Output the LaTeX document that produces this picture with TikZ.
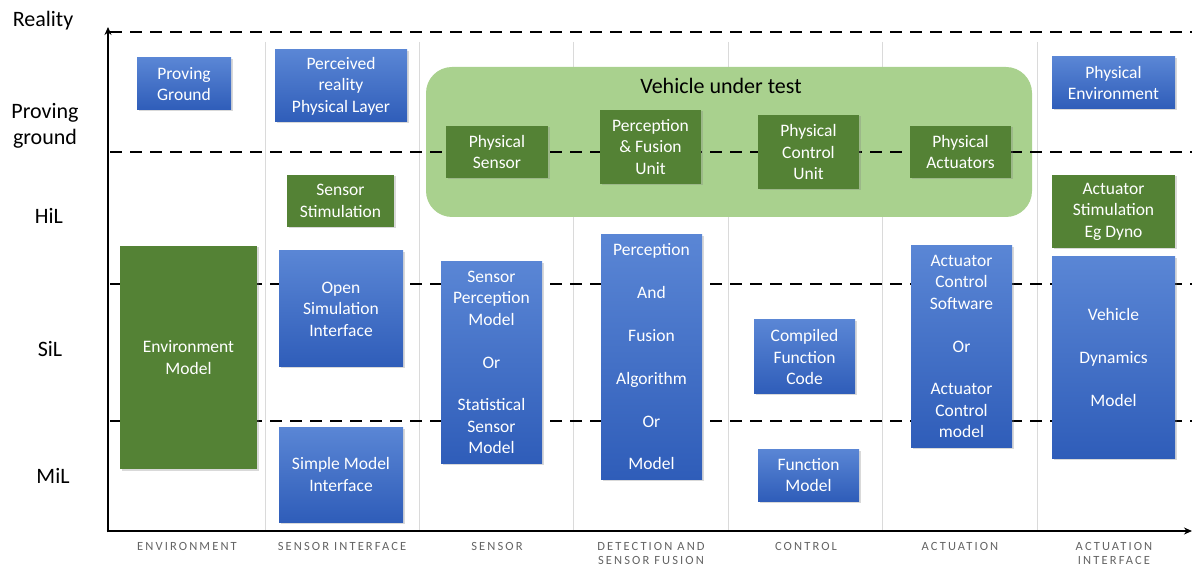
\documentclass[tikz,border=0pt]{standalone}
\usepackage{fontspec}
\setmainfont{Carlito}
\newfontfamily\capsfont[LetterSpace=17]{Carlito}
\usetikzlibrary{shadows,arrows.meta}
\definecolor{bluetop}{HTML}{5A86D5}
\definecolor{bluebot}{HTML}{2F5DB9}
\definecolor{dkgreen}{HTML}{548235}
\definecolor{ltgreen}{HTML}{A9D18E}
\definecolor{sepgray}{HTML}{DADADA}
\definecolor{lblgray}{HTML}{636363}
\tikzset{
  x=1pt, y=-1pt,
  boxbase/.style={align=center, text=white, inner sep=0pt,
    font=\fontsize{17.5}{21.4}\selectfont,
    drop shadow={shadow xshift=1.5pt, shadow yshift=-1.5pt, opacity=0.3}},
  bluebox/.style={boxbase, top color=bluetop, bottom color=bluebot},
  greenbox/.style={boxbase, fill=dkgreen},
  vutbox/.style={fill=ltgreen, rounded corners=26pt, inner sep=0pt},
  dashline/.style={line width=2.8pt, dash pattern=on 12pt off 8pt},
  sepline/.style={sepgray, line width=0.8pt},
  axisline/.style={line width=2.6pt, -{Stealth[length=8pt,width=7pt]}},
  rowlabel/.style={align=center, font=\fontsize{22}{26}\selectfont},
  collabel/.style={align=center, anchor=north, text=lblgray, inner sep=0pt, font=\capsfont\fontsize{12.5}{14.5}\selectfont},
}
\newcommand\boxat[7]{\node[#7, minimum width={(#4-#2)*1pt}, minimum height={(#5-#3)*1pt}] (#1) at ({(#2+#4)/2},{(#3+#5)/2}) {#6};}
\newcommand\gap{\\[21.4pt]}
\begin{document}
\begin{tikzpicture}
\useasboundingbox (0,0) rectangle (1192,569);
% column separators
\foreach \xx in {265,419,573,728,882,1037}{\draw[sepline] (\xx,42) -- (\xx,531);}
% vehicle under test
\boxat{vut}{426}{67}{1032}{217}{}{vutbox}
\node[font=\fontsize{22}{26}\selectfont] (vutlabel) at (721,86) {Vehicle under test};
% dashed level lines
\draw[dashline] (110,32) -- (1192,32);
\draw[dashline] (110,152) -- (1192,152);
\draw[dashline] (110,284) -- (1192,284);
\draw[dashline] (110,421) -- (1192,421);
% axes
\coordinate (origin) at (108,531);
\coordinate (ytop) at (108,27);
\coordinate (xend) at (1192,531);
\draw[axisline] (108,532.3) -- (ytop);
\draw[axisline] (106.7,531) -- (xend);
% row labels
\node[rowlabel] (reality) at (43,21) {Reality};
\node[rowlabel] (proving) at (45,126) {Proving\\ground};
\node[rowlabel] (hil) at (49,216) {HiL};
\node[rowlabel] (sil) at (50,349) {SiL};
\node[rowlabel] (mil) at (53,476) {MiL};
% column labels
\node[collabel] (c1) at (187,542) {ENVIRONMENT};
\node[collabel] (c2) at (342,542) {SENSOR INTERFACE};
\node[collabel] (c3) at (497,542) {SENSOR};
\node[collabel] (c4) at (651,542) {DETECTION AND\\SENSOR FUSION};
\node[collabel] (c5) at (806,542) {CONTROL};
\node[collabel] (c6) at (960,542) {ACTUATION};
\node[collabel] (c7) at (1114,542) {ACTUATION\\INTERFACE};
% boxes
\boxat{pg}{137}{58}{231}{110}{Proving\\Ground}{bluebox}
\boxat{prpl}{275}{50}{407}{122}{Perceived\\reality\\Physical Layer}{bluebox}
\boxat{sstim}{287}{175}{394}{227}{Sensor\\Stimulation}{greenbox}
\boxat{envm}{120}{246}{257}{469}{Environment\\Model}{greenbox}
\boxat{osi}{279}{251}{403}{367}{Open\\Simulation\\Interface}{bluebox}
\boxat{smi}{279}{427}{403}{522}{Simple Model\\Interface}{bluebox}
\boxat{spm}{441}{262}{542}{463}{Sensor\\Perception\\Model\gap Or\gap Statistical\\Sensor\\Model}{bluebox}
\boxat{pfa}{601}{235}{702}{479}{Perception\gap And\gap Fusion\gap Algorithm\gap Or\gap Model}{bluebox}
\boxat{cfc}{754}{320}{855}{394}{Compiled\\Function\\Code}{bluebox}
\boxat{fm}{758}{449}{859}{501}{Function\\Model}{bluebox}
\boxat{acs}{911}{246}{1012}{447}{Actuator\\Control\\Software\gap Or\gap Actuator\\Control\\model}{bluebox}
\boxat{vdm}{1052}{257}{1175}{458}{Vehicle\gap Dynamics\gap Model}{bluebox}
\boxat{penv}{1052}{57}{1175}{109}{Physical\\Environment}{bluebox}
\boxat{astim}{1052}{175}{1175}{248}{Actuator\\Stimulation\\Eg Dyno}{greenbox}
\boxat{psens}{446}{126}{548}{178}{Physical\\Sensor}{greenbox}
\boxat{pfu}{600}{110}{701}{184}{Perception\\\& Fusion\\Unit}{greenbox}
\boxat{pcu}{758}{115}{859}{189}{Physical\\Control\\Unit}{greenbox}
\boxat{pact}{910}{126}{1011}{178}{Physical\\Actuators}{greenbox}
\end{tikzpicture}
\end{document}
